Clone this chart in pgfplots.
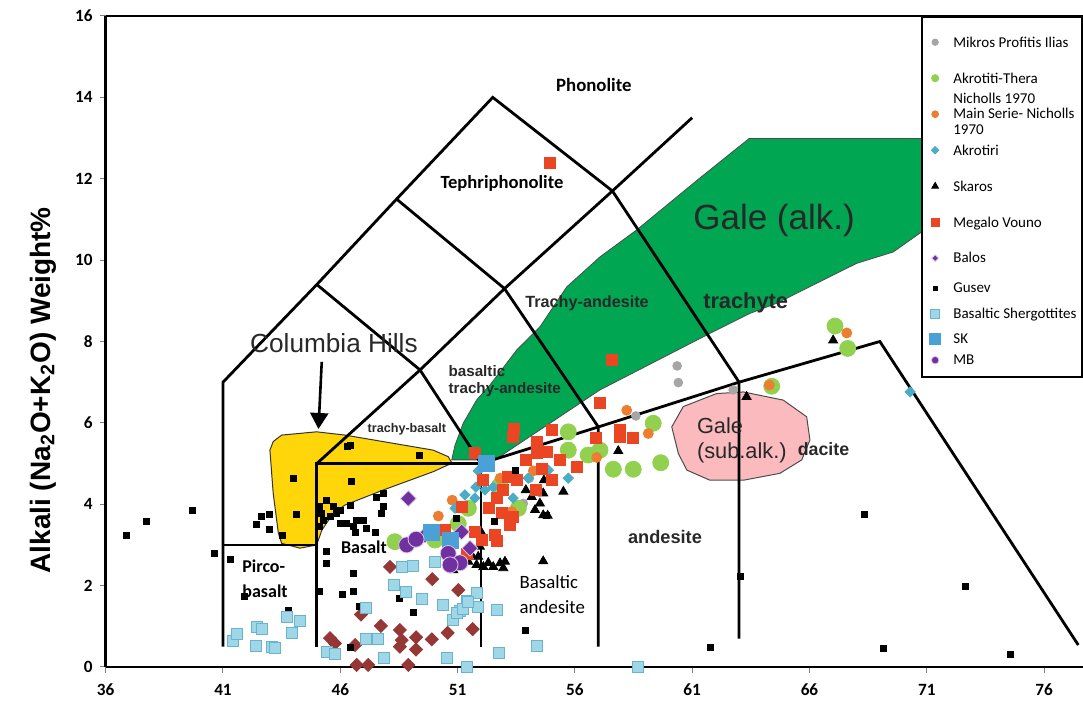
\documentclass[border=0pt]{standalone}
\usepackage{pgfplots}
\pgfplotsset{compat=1.18}
\usepackage{fontspec}
\setmainfont{Liberation Sans}
\newfontfamily\calibri{Carlito}
\usetikzlibrary{arrows.meta}

\definecolor{galegreen}{RGB}{0,166,81}
\definecolor{colyellow}{RGB}{255,214,10}
\definecolor{galepink}{RGB}{250,186,190}
\definecolor{mpgray}{RGB}{166,166,166}
\definecolor{akgreen}{RGB}{146,208,80}
\definecolor{msorange}{RGB}{237,125,49}
\definecolor{akblue}{RGB}{75,172,198}
\definecolor{mvred}{RGB}{235,70,35}
\definecolor{balpurple}{RGB}{112,48,160}
\definecolor{shfill}{RGB}{160,215,232}
\definecolor{shdraw}{RGB}{105,180,205}
\definecolor{skblue}{RGB}{75,160,215}
\definecolor{darkred}{RGB}{149,55,53}
\definecolor{labelgray}{RGB}{40,40,40}

% legend row strut: total height #1, centred on the text
\newcommand\lgs[1]{\rule[\dimexpr2.4pt-#1/2\relax]{0pt}{#1}}

\begin{document}
\begin{tikzpicture}
\begin{axis}[
  scale only axis,
  width=488.65pt, height=325.5pt,
  xmin=36, xmax=77.66, ymin=0, ymax=16,
  xtick={36,41,...,76}, ytick={0,2,...,16},
  axis x line=box, axis y line=left,
  axis line style={-, line width=1.3pt, black},
  xtick pos=bottom, ytick pos=left,
  tick style={gray, line width=0.5pt},
  major tick length=3pt,
  xtick align=outside, ytick align=outside,
  /pgf/number format/assume math mode=true,
  ticklabel style={font=\calibri\bfseries\fontsize{8.6}{10}\selectfont, text=black},
  xticklabel style={yshift=-2pt},
  every axis y label/.style={at={(axis description cs:0,0.425)}, xshift=-31.4pt, rotate=90, anchor=center},
  ylabel={Alkali (Na\textsubscript{2}O+K\textsubscript{2}O) Weight\%},
  ylabel style={font=\bfseries\fontsize{14}{16}\selectfont},
  clip=false,
  legend cell align=left,
  legend style={at={(0.834,1)}, anchor=north west, draw=black, line width=1.2pt, fill=white,
    font=\calibri\fontsize{7.5}{9}\selectfont, inner xsep=3pt, inner ysep=3.5pt,
    nodes={inner sep=0pt, text depth={}}, column sep=5.5pt, row sep=0pt},
  legend image code/.code={\draw[line width=0.4pt, #1] plot coordinates {(0pt,0pt)}; \path (-3pt,0pt) (3pt,0pt);},
]

% ---- fields of the Martian and Santorini rocks ----
\addplot[forget plot, fill=colyellow, draw=black!80, line width=0.5pt] coordinates {
 (43.00,5.33) (43.14,5.54) (43.50,5.70) (44.99,5.78) (46.20,5.70) (49.96,5.33)
 (50.60,5.17) (50.76,5.01) (49.96,4.80) (47.83,4.35) (46.20,3.98) (45.70,3.78)
 (45.22,3.37) (44.99,3.00) (44.28,2.92) (43.50,3.04) (43.36,3.29) (43.14,4.27)} -- cycle;
\addplot[forget plot, fill=galegreen, draw=black!70, line width=0.4pt] coordinates {
 (50.75,5.09) (50.89,5.45) (51.24,5.99) (51.81,6.56) (52.38,6.93) (53.52,7.79)
 (54.51,8.36) (55.65,9.34) (57.07,10.08) (58.63,10.74) (61.31,12.01) (63.43,12.99)
 (70.80,12.99) (70.80,10.70) (69.57,10.20) (68.01,9.92) (64.60,8.94) (63.46,8.69)
 (61.76,8.20) (57.07,6.81) (52.59,5.09)} -- cycle;
\addplot[forget plot, fill=galepink, draw=black!70, line width=0.5pt] coordinates {
 (60.13,5.90) (60.62,6.40) (62.04,6.72) (63.18,6.76) (64.88,6.56) (65.88,6.15)
 (66.02,5.58) (65.67,5.09) (64.74,4.76) (63.18,4.59) (61.76,4.59) (60.77,4.84)
 (60.41,5.25)} -- cycle;

% ---- TAS classification boundaries (Le Bas et al.) ----
\pgfplotsset{tas/.style={forget plot, black, line width=1.4pt, line join=miter, mark=none}}
\addplot[tas] coordinates {(41,0.5) (41,7) (45,9.4) (48.4,11.5) (52.5,14) (57.6,11.7) (63,7) (63,0.7)};
\addplot[tas] coordinates {(41,3) (45,3)};
\addplot[tas] coordinates {(45,0.5) (45,5) (52,5) (52,0.5)};
\addplot[tas] coordinates {(45,5) (49.4,7.3) (53,9.3) (57.6,11.7) (61,13.5)};
\addplot[tas] coordinates {(45,9.4) (49.4,7.3) (52,5) (57,5.9) (63,7) (69,8) (77.46,0.54)};
\addplot[tas] coordinates {(48.4,11.5) (53,9.3) (57,5.9) (57,0.5)};

% arrow to the Columbia Hills field
\addplot[forget plot, black, line width=1.3pt, -{Triangle[length=8pt, width=9pt]}] coordinates {(45.21,7.50) (45.07,5.85)};

% ---- field names ----
\node[font=\calibri\bfseries\fontsize{9.4}{11}\selectfont, text=black] at (axis cs:56.81,14.30) {Phonolite};
\node[font=\calibri\bfseries\fontsize{9.3}{11}\selectfont, text=black] at (axis cs:52.89,11.89) {Tephriphonolite};
\node[font=\bfseries\fontsize{8.1}{10}\selectfont, text=labelgray] at (axis cs:56.52,8.95) {Trachy-andesite};
\node[font=\bfseries\fontsize{10.9}{12}\selectfont, text=labelgray] at (axis cs:63.28,8.94) {trachyte};
\node[font=\bfseries\fontsize{7.6}{8.85}\selectfont, text=labelgray, align=left, anchor=west, inner sep=0pt] at (axis cs:50.60,7.03) {basaltic\\trachy-andesite};
\node[font=\bfseries\fontsize{6.3}{8}\selectfont, text=labelgray] at (axis cs:48.84,5.85) {trachy-basalt};
\node[font=\calibri\bfseries\fontsize{9}{11}\selectfont, text=black] at (axis cs:47.01,2.95) {Basalt};
\node[font=\calibri\bfseries\fontsize{9}{12.5}\selectfont, text=black, align=left, anchor=west, inner sep=0pt] at (axis cs:41.81,2.16) {Pirco-\\basalt};
\node[font=\calibri\fontsize{9.4}{12.5}\selectfont, text=black, align=left, anchor=west, inner sep=0pt] at (axis cs:53.63,1.79) {Basaltic\\andesite};
\node[font=\bfseries\fontsize{9.1}{11}\selectfont, text=labelgray] at (axis cs:59.84,3.19) {andesite};
\node[font=\bfseries\fontsize{8.9}{11}\selectfont, text=labelgray] at (axis cs:66.60,5.36) {dacite};
\node[font=\fontsize{10.9}{12.5}\selectfont, text=labelgray, align=left, anchor=west, inner sep=0pt] at (axis cs:61.19,5.57) {Gale\\(sub.alk.)};
\node[font=\fontsize{17.5}{20}\selectfont, text=labelgray] at (axis cs:64.49,10.98) {Gale (alk.)};
\node[font=\fontsize{13.1}{15}\selectfont, text=labelgray] at (axis cs:45.73,7.96) {Columbia Hills};

% ---- samples ----
% dark red diamonds (no legend entry)
\addplot[forget plot, only marks, mark=square*, mark size=2.3pt, mark options={rotate=45, fill=darkred, draw=darkred}] coordinates {
 (48.12,2.46) (49.92,2.16) (51.03,1.89) (46.88,1.29) (47.73,1.01) (48.54,0.91) (48.62,0.66)
 (49.23,0.73) (49.90,0.68) (50.58,0.84) (51.64,0.93) (45.56,0.71) (45.77,0.58) (46.63,0.54)
 (48.54,0.50) (49.23,0.43) (46.70,0.05) (47.19,0.05) (48.90,0.05)};

\addplot[only marks, mark=*, mark size=2.2pt, mark options={fill=mpgray, draw=mpgray},
  legend image post style={mark size=1.6pt}] coordinates {
 (60.36,7.40) (60.41,6.99) (58.60,6.17) (62.75,6.81) (53.80,4.02) (54.06,4.64)};
\addlegendentry{\lgs{18pt}Mikros Profitis Ilias}

\addplot[only marks, mark=*, mark size=4pt, mark options={fill=akgreen, draw=akgreen},
  legend image post style={mark size=1.8pt}] coordinates {
 (55.72,5.78) (55.72,5.33) (56.57,5.21) (57.07,5.33) (57.64,4.86) (58.49,4.86) (59.66,5.02)
 (59.34,5.99) (52.81,4.47) (53.59,3.90) (51.46,3.90) (51.03,3.52) (48.33,3.08) (50.04,3.12)
 (64.39,6.90) (67.09,8.38) (67.63,7.83)};
\addlegendentry{\lgs{18pt}\raisebox{0pt}[\height][0pt]{\begin{tabular}[t]{@{}l@{}}Akrotiti-Thera\\[1.5pt]Nicholls 1970\end{tabular}}}

\addplot[only marks, mark=*, mark size=2.5pt, mark options={fill=msorange, draw=msorange},
  legend image post style={mark size=1.7pt}] coordinates {
 (58.21,6.31) (59.13,5.74) (56.93,5.15) (54.23,4.82) (50.18,3.71) (53.31,3.82) (64.29,6.93)
 (67.59,8.21) (50.77,4.10) (52.81,4.64)};
\addlegendentry{\lgs{18pt}\raisebox{0pt}[\height][0pt]{\begin{tabular}[t]{@{}l@{}}Main Serie- Nicholls\\[-1pt]1970\end{tabular}}}

\addplot[only marks, mark=square*, mark size=1.8pt, mark options={rotate=45, fill=akblue, draw=akblue},
  legend image post style={mark size=1.3pt}] coordinates {
 (51.88,4.82) (52.52,4.42) (52.17,4.35) (51.78,4.42) (51.31,4.23) (51.74,4.15) (50.89,3.90)
 (53.37,4.15) (55.72,4.64) (54.87,4.84) (54.01,4.64) (70.29,6.76)};
\addlegendentry{\lgs{18pt}Akrotiri}

\addplot[only marks, mark=triangle*, mark size=2.6pt, mark options={fill=black, draw=black},
  legend image post style={mark size=1.9pt}] coordinates {
 (53.91,4.35) (54.16,4.18) (54.65,4.27) (55.51,4.31) (54.30,3.86) (54.51,4.02) (54.65,3.73)
 (54.84,3.72) (54.68,4.59) (52.03,3.29) (51.95,2.96) (51.88,2.71) (51.60,2.75) (51.81,2.51)
 (52.31,2.56) (52.52,2.46) (52.81,2.55) (53.02,2.59) (52.95,2.43) (50.82,2.38) (54.65,2.60)
 (57.85,5.31) (63.32,6.64) (67.01,8.03) (51.46,2.59) (52.10,2.46)};
\addlegendentry{\lgs{18pt}Skaros}

\addplot[only marks, mark=square*, mark size=2.75pt, mark options={fill=mvred, draw=mvred},
  legend image post style={mark size=1.9pt}] coordinates {
 (57.07,6.49) (53.40,5.84) (53.37,5.66) (55.01,5.82) (54.37,5.54) (53.92,5.10) (54.37,5.27)
 (54.80,5.29) (55.36,5.09) (56.08,4.91) (56.90,5.64) (57.92,5.82) (57.92,5.66) (58.46,5.64)
 (51.74,5.27) (52.10,4.61) (53.16,4.68) (53.52,4.59) (54.58,4.88) (55.01,4.59) (54.34,4.35)
 (52.67,4.15) (52.95,4.35) (52.35,3.90) (52.88,3.78) (53.37,3.69) (53.23,3.49) (51.17,3.94)
 (50.46,3.37) (51.74,3.32) (52.03,3.12) (52.59,3.24) (52.67,3.10) (51.39,2.79) (57.57,7.54)
 (54.94,12.38)};
\addlegendentry{\lgs{18pt}Megalo Vouno}

\addplot[only marks, mark=square*, mark size=2.8pt, mark options={rotate=45, fill=balpurple, draw=white!75!balpurple},
  legend image post style={mark size=1.2pt}] coordinates {
 (48.90,4.14) (49.61,3.24) (51.17,3.32) (51.53,2.92)};
\addlegendentry{\lgs{18pt}Balos}

\addplot[only marks, mark=square*, mark size=1.5pt, mark options={fill=black, draw=black},
  legend image post style={mark size=1.1pt}] coordinates {
 (36.90,3.24) (37.72,3.57) (39.71,3.86) (40.62,2.79) (41.33,2.65) (41.90,1.74) (43.78,1.40)
 (42.41,3.51) (42.62,3.69) (42.97,3.75) (42.97,3.37) (43.54,3.23) (44.00,4.64) (44.11,3.75)
 (46.30,5.41) (46.44,5.45) (49.37,5.19) (46.46,4.57) (45.13,3.94) (45.21,3.78) (45.28,3.61)
 (45.13,3.45) (45.42,4.10) (45.70,3.94) (45.56,3.69) (45.85,3.78) (45.99,3.86) (45.99,3.53)
 (46.27,3.53) (46.41,3.98) (46.55,3.45) (46.70,3.61) (46.98,3.61) (47.13,3.41) (47.55,4.18)
 (47.83,4.27) (47.83,3.94) (47.76,3.78) (47.48,3.32) (46.63,3.30) (45.42,2.83) (45.42,2.55)
 (46.55,2.30) (45.13,1.85) (46.10,1.79) (46.58,1.87) (48.51,1.69) (46.80,1.50) (49.11,1.34)
 (46.44,0.47) (53.45,4.82) (50.96,3.65) (52.59,3.59) (54.80,3.73) (53.87,0.91) (61.76,0.49)
 (63.04,2.22) (68.34,3.75) (69.15,0.46) (72.63,1.99) (74.58,0.32)};
\addlegendentry{\lgs{12pt}Gusev}

\addplot[only marks, mark=square*, mark size=2.75pt, mark options={fill=shfill, draw=shdraw, line width=0.5pt},
  legend image post style={mark size=2.2pt}] coordinates {
 (41.44,0.64) (41.58,0.81) (42.44,0.99) (42.65,0.93) (42.41,0.52) (43.08,0.50) (43.22,0.46)
 (43.72,1.22) (44.28,1.14) (43.95,0.84) (45.42,0.38) (45.77,0.32) (47.08,0.68) (47.62,0.68)
 (47.86,0.21) (48.62,2.45) (49.11,2.48) (50.04,2.59) (48.30,2.01) (48.80,1.84) (49.47,1.66)
 (50.39,1.52) (51.10,1.38) (50.82,1.15) (51.39,1.63) (51.81,1.81) (51.88,1.47) (50.54,0.21)
 (51.39,0.00) (47.08,1.44) (52.67,1.40) (50.96,1.32) (51.24,1.42) (51.46,1.60) (52.78,0.34)
 (54.37,0.52) (58.70,0.00)};
\addlegendentry{\lgs{14pt}Basaltic Shergottites}

\addplot[only marks, mark=square*, mark size=4pt, mark options={fill=skblue, draw=skblue},
  legend image post style={mark size=2.7pt}] coordinates {
 (49.90,3.30) (50.68,3.10) (52.21,5.00)};
\addlegendentry{\lgs{11pt}SK}

\addplot[only marks, mark=*, mark size=4pt, mark options={fill=balpurple, draw=white!75!balpurple},
  legend image post style={mark size=1.9pt}] coordinates {
 (48.83,3.00) (49.23,3.14) (50.60,2.79) (51.10,2.56) (50.68,2.51)};
\addlegendentry{\lgs{10pt}MB}

\coordinate (bl) at (rel axis cs:0,0);
\coordinate (tr) at (rel axis cs:1,1);
\end{axis}
\pgfresetboundingbox
\useasboundingbox (bl) ++(-52.85pt,-17.5pt) rectangle (tr) ++(0pt,8pt);
\end{tikzpicture}
\end{document}
